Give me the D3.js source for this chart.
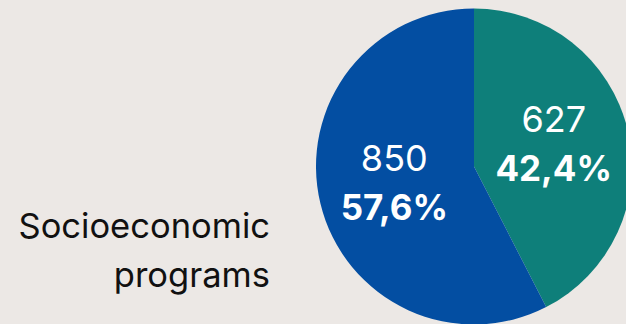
<!DOCTYPE html>
<html>
<head>
<meta charset="utf-8">
<script src="https://cdn.jsdelivr.net/npm/d3@7"></script>
<style>
  html, body { margin: 0; padding: 0; background: #ECE8E5; }
  svg { display: block; }
</style>
</head>
<body>
<div id="chart"></div>
<script>
// data
var categories = ["Teal", "Blue"];
var counts = [627, 850];
var shares = ["42,4%", "57,6%"];
var colors = ["#0E7F7A", "#034EA2"];
var title = ["Socioeconomic", "programs"];

var width = 626,
    height = 324,
    radius = 158,
    cx = 474,
    cy = 166.5;

var svg = d3.select("#chart").append("svg")
    .attr("width", width)
    .attr("height", height);

svg.append("rect")
    .attr("width", width)
    .attr("height", height)
    .attr("fill", "#ECE8E5");

var pie = d3.pie()
    .sort(null)
    .value(function(d) { return d; });

var arc = d3.arc().innerRadius(0).outerRadius(radius);
var labelArc = d3.arc().innerRadius(82).outerRadius(82);

var g = svg.append("g")
    .attr("transform", "translate(" + cx + "," + cy + ")");

var slices = g.selectAll("g.slice")
    .data(pie(counts))
    .enter().append("g")
    .attr("class", "slice");

slices.append("path")
    .attr("d", arc)
    .attr("fill", function(d, i) { return colors[i]; });

var fontFam = "Inter, 'Open Sans', sans-serif";

slices.append("text")
    .attr("transform", function(d) {
        var c = labelArc.centroid(d);
        return "translate(" + c[0] + "," + (c[1] - 15) + ")";
    })
    .attr("text-anchor", "middle")
    .attr("fill", "#fff")
    .style("font-family", fontFam)
    .style("font-size", "36px")
    .style("font-weight", 400)
    .text(function(d, i) { return counts[i]; });

slices.append("text")
    .attr("transform", function(d) {
        var c = labelArc.centroid(d);
        return "translate(" + c[0] + "," + (c[1] + 34) + ")";
    })
    .attr("text-anchor", "middle")
    .attr("fill", "#fff")
    .style("font-family", fontFam)
    .style("font-size", "35px")
    .style("font-weight", 700)
    .text(function(d, i) { return shares[i]; });

// left label
svg.append("g").selectAll("text")
    .data(title)
    .enter().append("text")
    .attr("x", 270)
    .attr("y", function(d, i) { return 238 + i * 49; })
    .attr("text-anchor", "end")
    .attr("fill", "#111")
    .style("font-family", fontFam)
    .style("font-size", "34.5px")
    .text(function(d) { return d; });
</script>
</body>
</html>
